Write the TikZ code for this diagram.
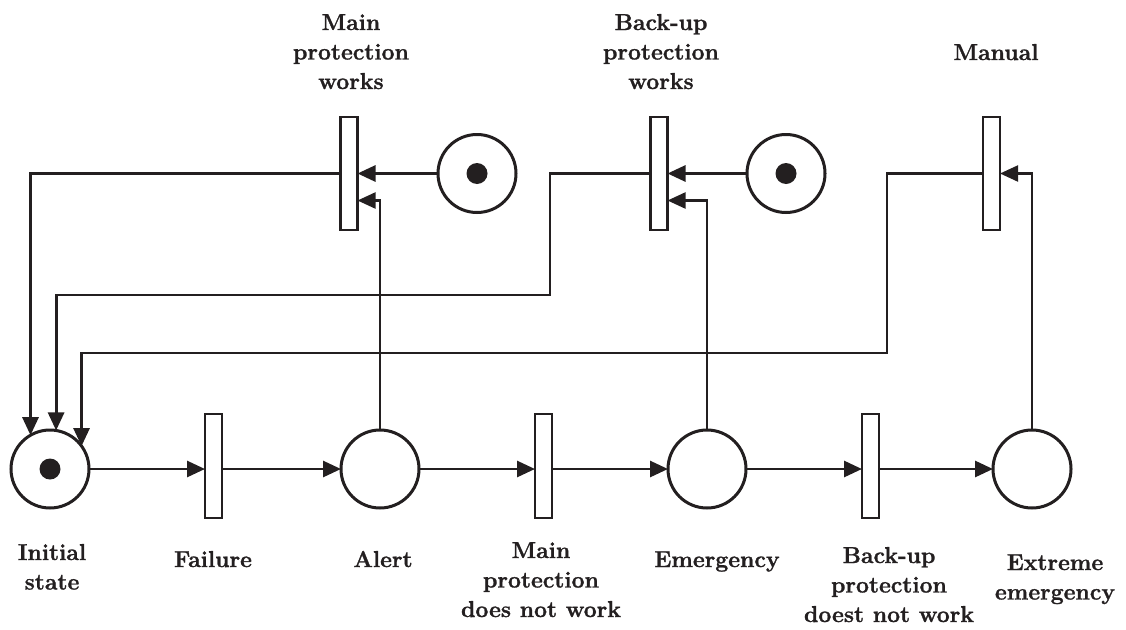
\documentclass[tikz,border=0pt]{standalone}
\usepackage{fontspec}
\newfontfamily\labfont{Latin Modern Roman}[BoldFeatures={FakeBold=1.2}]
\usetikzlibrary{arrows.meta}
\definecolor{ink}{RGB}{35,31,32}
\newcommand{\lbl}[1]{\begin{tabular}[t]{@{}c@{}}#1\end{tabular}}
\begin{document}
\begin{tikzpicture}[x=1pt,y=-1pt,
  every node/.style={inner sep=0pt,outer sep=0pt},
  place/.style={circle,draw=ink,line width=3pt,minimum size=78pt},
  trans/.style={rectangle,draw=ink,line width=2.8pt,minimum width=17pt,fill=white},
  token/.style={circle,fill=ink,minimum size=21pt},
  arr/.style={draw=ink,line width=2.8pt,-{Triangle[length=18pt,width=16pt]}},
  lab/.style={font=\labfont\fontsize{23}{29.5}\selectfont\bfseries,text=ink,anchor=base}]
\useasboundingbox (0,0) rectangle (1126,629);
% bottom row
\node[place] (init) at (50,469) {};
\node[token] (t0) at (init.center) {};
\node[trans,minimum height=104pt] (fail) at (213.5,466) {};
\node[place] (alert) at (380,469) {};
\node[trans,minimum height=104pt] (mpnw) at (543.5,466) {};
\node[place] (emerg) at (707,469) {};
\node[trans,minimum height=104pt] (bpnw) at (870.5,466) {};
\node[place] (ext) at (1032,469) {};
% top row
\node[trans,minimum height=113pt] (mpw) at (349,173.5) {};
\node[place] (p1) at (477,173.5) {};
\node[token] (t1) at (p1.center) {};
\node[trans,minimum height=113pt] (bpw) at (659,173.5) {};
\node[place] (p2) at (786,173.5) {};
\node[token] (t2) at (p2.center) {};
\node[trans,minimum height=113pt] (man) at (991.5,173.5) {};
% routing corners
\coordinate (b1) at (550,295);
\coordinate (m1) at (887,353);
% main chain
\draw[arr] (init.east) -- (init.east -| fail.west);
\draw[arr] (init.east -| fail.east) -- (alert.west);
\draw[arr] (alert.east) -- (alert.east -| mpnw.west);
\draw[arr] (alert.east -| mpnw.east) -- (emerg.west);
\draw[arr] (emerg.east) -- (emerg.east -| bpnw.west);
\draw[arr] (emerg.east -| bpnw.east) -- (ext.west);
% feedback
\draw[arr,line width=2.2pt] (alert.north) |- ([yshift=-27pt]mpw.east);
\draw[arr] (p1.west) -- (mpw.east);
\draw[arr] (mpw.west) -| (init.120.8);
\draw[arr,line width=2.2pt] (emerg.north) |- ([yshift=-27pt]bpw.east);
\draw[arr] (p2.west) -- (bpw.east);
\draw[arr] (bpw.west) -| (b1) -| (init.81.4);
\draw[arr,line width=2.2pt] (ext.north) |- (man.east);
\draw[arr] (man.west) -| (m1) -| (init.36);
% labels
\node[lab] (l1) at (351,30) {\lbl{Main\\protection\\works}};
\node[lab] (l2) at (661,30) {\lbl{Back-up\\protection\\works}};
\node[lab] (l3) at (996,60) {Manual};
\node[lab] (l4) at (52,560) {\lbl{Initial\\state}};
\node[lab] (l5) at (213,567) {Failure};
\node[lab] (l6) at (383,567) {Alert};
\node[lab] (l7) at (541,558) {\lbl{Main\\protection\\does not work}};
\node[lab] (l8) at (717,567) {Emergency};
\node[lab] (l9) at (889,563) {\lbl{Back-up\\protection\\doest not work}};
\node[lab] (l10) at (1055,570) {\lbl{Extreme\\emergency}};
\end{tikzpicture}
\end{document}
